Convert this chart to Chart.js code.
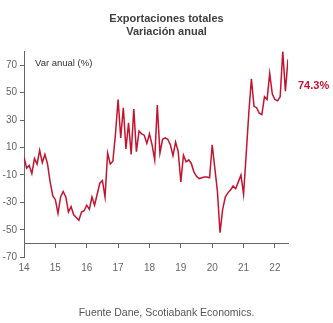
<!DOCTYPE html>
<html>
<head>
<meta charset="utf-8">
<script src="https://cdn.jsdelivr.net/npm/chart.js@4.4.0/dist/chart.umd.min.js"></script>
<style>
  html, body { margin: 0; padding: 0; background: #fff; }
</style>
</head>
<body>
<canvas id="grafik" width="333" height="323"></canvas>
<script>
// Exportaciones totales, variación anual (%), ene 2014 - jun 2022
const anioInicio = 14;
const exportaciones = [
  3, -5, -3, -9, 2, -2, 8, -1, 5, -2, -15, -25,          // 2014
  -28, -38, -26, -22, -26, -37, -33, -39, -41, -43, -37, -36, // 2015
  -32, -35, -26, -32, -24, -16, -14, -26, 6, -2, 0, 20,   // 2016
  45, 17, 39, 9, 28, 5, 38, 7, 22, 20, 19, 13,            // 2017
  20, 12, 1, 41, 6, 16, 17, 16, 12, 4, 14, 7,             // 2018
  -15, 4.5, -0.4, 1, -1.6, -7.7, -11, -12.6, -12, -11.4, -11.5, -12, // 2019
  12, -5, -22, -52, -35, -26, -23, -21, -18, -20, -15, -10, // 2020
  -24, 5, 35, 60, 40, 39, 35, 34, 47, 45, 64, 49,         // 2021
  45, 44, 47, 80, 51, 74.3                                // 2022
];
const ticksAnio = [14, 15, 16, 17, 18, 19, 20, 21, 22];
const ticksY = [-70, -50, -30, -10, 10, 30, 50, 70];
const ultimoDato = "74.3%";

const fuente = 'Arial, "Liberation Sans", sans-serif';
const rojo = "#c3132f";
const gris = "#666666";

// fecha de cada mes en años (14 = ene 2014)
const puntos = exportaciones.map((v, i) => ({ x: anioInicio + i / 12, y: v }));

const textos = {
  id: "textos",
  afterDraw(chart) {
    const ctx = chart.ctx;
    const area = chart.chartArea;
    ctx.save();
    ctx.textBaseline = "middle";
    ctx.fillStyle = "#333333";
    ctx.font = "9.5px " + fuente;
    ctx.textAlign = "left";
    ctx.fillText("Var anual (%)", area.left + 11, area.top + 12);
    ctx.fillStyle = rojo;
    ctx.font = "bold 11px " + fuente;
    ctx.fillText(ultimoDato, area.right + 10, area.top + 35);
    ctx.restore();
  }
};

new Chart(document.getElementById("grafik").getContext("2d"), {
  type: "line",
  data: {
    datasets: [{
      data: puntos,
      borderColor: rojo,
      borderWidth: 1.5,
      pointRadius: 0,
      tension: 0,
      fill: false
    }]
  },
  options: {
    responsive: false,
    animation: false,
    layout: { padding: 0 },
    plugins: {
      legend: { display: false },
      tooltip: { enabled: false },
      title: {
        display: true,
        text: ["Exportaciones totales", "Variación anual"],
        color: "#404040",
        font: { family: fuente, size: 11, weight: "bold", lineHeight: 1.2 },
        padding: { top: 12, bottom: 13 }
      },
      subtitle: {
        display: true,
        position: "bottom",
        text: "Fuente Dane, Scotiabank Economics.",
        color: "#555555",
        font: { family: fuente, size: 10.5, lineHeight: 1.2 },
        padding: { top: 49, bottom: 4 }
      }
    },
    scales: {
      x: {
        type: "linear",
        position: { y: -60 },
        min: anioInicio,
        max: anioInicio + (exportaciones.length - 1) / 12,
        afterBuildTicks: (axis) => { axis.ticks = ticksAnio.map(v => ({ value: v })); },
        ticks: {
          color: gris,
          font: { family: fuente, size: 10 },
          padding: 15,
          maxRotation: 0,
          callback: (v) => String(v)
        },
        grid: { drawOnChartArea: false, tickLength: 4, color: gris },
        border: { display: true, color: gris, width: 1 }
      },
      y: {
        min: -70,
        max: 80,
        afterBuildTicks: (axis) => { axis.ticks = ticksY.map(v => ({ value: v })); },
        afterFit: (axis) => { axis.width = 24; },
        ticks: {
          color: gris,
          font: { family: fuente, size: 10 },
          padding: 3
        },
        grid: { drawOnChartArea: false, tickLength: 4, color: gris },
        border: { display: true, color: gris, width: 1 }
      },
      derecha: {
        position: "right",
        display: true,
        afterFit: (axis) => { axis.width = 45; },
        ticks: { display: false },
        grid: { display: false },
        border: { display: false }
      }
    }
  },
  plugins: [textos]
});
</script>
</body>
</html>
